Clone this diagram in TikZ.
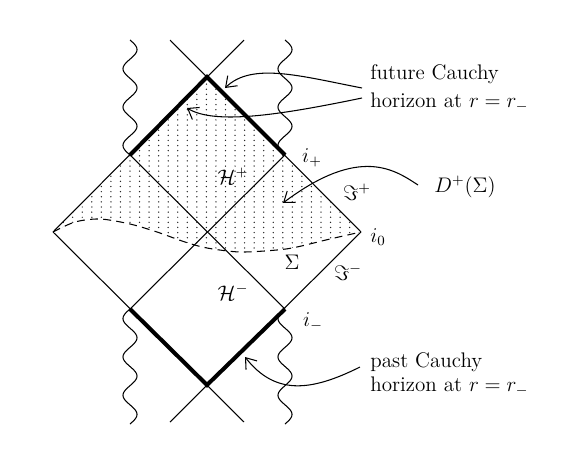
\documentclass[tikz,border=0pt]{standalone}
\usetikzlibrary{arrows.meta}
\begin{document}
\begin{tikzpicture}[x=0.02cm,y=-0.02cm,
  thinline/.style={line width=0.6pt},
  horizonline/.style={line width=2.3pt,line join=miter},
  wavy/.style={line width=0.6pt},
  sigmaline/.style={line width=0.6pt,dash pattern=on 4.5pt off 3pt},
  pointer/.style={line width=0.6pt,-{Straight Barb[length=5.5pt,width=8pt]}},
  lab/.style={font=\fontsize{12}{14}\selectfont,inner sep=0pt},
  dotfill/.style={fill=black!85}]
\useasboundingbox (0,0) rectangle (562,450);
% key points
\coordinate (top) at (207,77);
\coordinate (bot) at (207,385);
\coordinate (L) at (53,232);
\coordinate (R) at (361,232);
\coordinate (ul) at (130,155);
\coordinate (ur) at (285,155);
\coordinate (ll) at (130,309);
\coordinate (lr) at (285,309);
\coordinate (tlend) at (170,40);
\coordinate (trend) at (244,40);
\coordinate (blend) at (170,422);
\coordinate (brend) at (244,422);
% dotted domain of dependence
\begin{scope}
  \clip (top) -- (R) -- plot[smooth] coordinates {(361,232) (330,239) (297,247) (277,250) (240,252) (207,248) (185,242) (157,232) (130,224) (100,219) (75,222) (53,232)} -- (ul) -- cycle;
  \foreach \i in {0,...,32}{
    \foreach \j in {0,...,36}{
      \fill[dotfill] ({53.6+9.55*\i},{79+5.12*\j}) circle (0.42pt);
    }
  }
\end{scope}
% null lines
\draw[thinline] (trend) -- (L);
\draw[thinline] (tlend) -- (R);
\draw[thinline] (blend) -- (R);
\draw[thinline] (brend) -- (L);
\draw[thinline] (ul) -- (lr);
\draw[thinline] (ur) -- (ll);
% Cauchy horizons
\draw[horizonline] (ul) -- (top) -- (ur);
\draw[horizonline] (ll) -- (bot) -- (lr);
% singularities
\draw[wavy] plot[domain=40:155,samples=140,smooth] ({130+7*sin(9.3913*(\x-40))},\x);
\draw[wavy] plot[domain=40:155,samples=140,smooth] ({285+7*sin(9.3913*(\x-40))},\x);
\draw[wavy] plot[domain=309:424,samples=140,smooth] ({130+7*sin(9.3913*(424-\x))},\x);
\draw[wavy] plot[domain=309:424,samples=140,smooth] ({285+7*sin(9.3913*(424-\x))},\x);
% Sigma
\draw[sigmaline] plot[smooth] coordinates {(53,232) (75,222) (100,219) (130,224) (157,232) (185,242) (207,248) (240,252) (277,250) (297,247) (330,239) (361,232)};
% labels
\node[lab] (Hp) at (233,176) {$\mathcal{H}^+$};
\node[lab] (Hm) at (233,292) {$\mathcal{H}^-$};
\node[lab] (ip) at (312,158) {$i_+$};
\node[lab] (Jp) at (357,192) {$\Im^+$};
\node[lab] (i0) at (378,237) {$i_0$};
\node[lab] (Sig) at (292,262) {$\Sigma$};
\node[lab] (Jm) at (348,272) {$\Im^-$};
\node[lab] (im) at (313,322) {$i_-$};
\node[lab] (D) at (465,187) {$D^+(\Sigma)$};
\node[lab,anchor=base west] (fut1) at (370,79.5) {future Cauchy};
\node[lab,anchor=base west] (fut2) at (370,107.5) {horizon at $r=r_-$};
\node[lab,anchor=base west] (past1) at (370,367) {past Cauchy};
\node[lab,anchor=base west] (past2) at (370,391.5) {horizon at $r=r_-$};
% pointers
\coordinate (fa) at (362,88);
\coordinate (fat) at (225,88);
\coordinate (fb) at (362,98);
\coordinate (fbt) at (187,108);
\coordinate (da) at (418,185);
\coordinate (dat) at (283,203);
\coordinate (pa) at (360,367);
\coordinate (pat) at (245,357);
\draw[pointer] (fa) .. controls (300,76) and (252,62) .. (fat);
\draw[pointer] (fb) .. controls (280,115) and (215,125) .. (fbt);
\draw[pointer] (da) .. controls (395,170) and (360,145) .. (dat);
\draw[pointer] (pa) .. controls (310,392) and (275,395) .. (pat);
\end{tikzpicture}
\end{document}
